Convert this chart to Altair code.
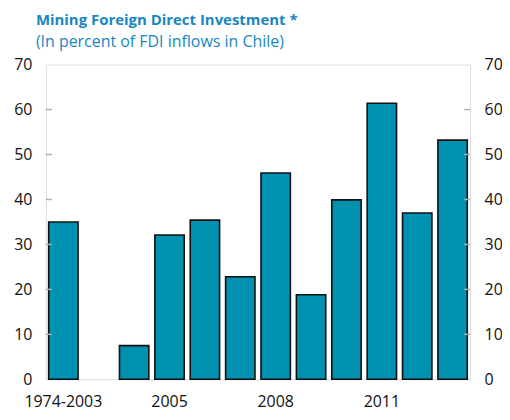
import altair as alt
import pandas as pd

categories = ["1974-2003", "gap", "2004", "2005", "2006", "2007", "2008", "2009", "2010", "2011", "2012", "2013"]
values = [35.0, None, 7.5, 32.1, 35.4, 22.8, 45.9, 18.8, 39.9, 61.4, 37.0, 53.2]
shown_labels = ["1974-2003", "2005", "2008", "2011"]
y_ticks = [0, 10, 20, 30, 40, 50, 60, 70]

df = pd.DataFrame({"cat": categories, "val": values})
ticks_df = pd.DataFrame({"v": y_ticks[1:-1]})

FONT = "Open Sans"
LS = 16
scale_y = alt.Scale(domain=[0, 70], nice=False)
label_expr = "indexof(" + str(shown_labels).replace("'", '"') + ", datum.value) >= 0 ? datum.value : ''"

bars = alt.Chart(df).mark_bar(color="#0090b0", stroke="#111111", strokeWidth=1.6).encode(
    x=alt.X("cat:N", sort=categories, title=None,
            scale=alt.Scale(paddingInner=0.17, paddingOuter=0.08),
            axis=alt.Axis(labelAngle=0, domain=False, ticks=False, labelPadding=14,
                          labelExpr=label_expr, labelFontSize=LS, labelFont=FONT,
                          labelColor="#111111")),
    y=alt.Y("val:Q", scale=scale_y, title=None,
            axis=alt.Axis(orient="left", values=y_ticks, domain=False, ticks=False,
                          grid=False, labelPadding=14, labelFontSize=LS, labelFont=FONT,
                          labelColor="#111111")),
)

left_ticks = alt.Chart(ticks_df).mark_rule(color="#b0b0b0", strokeWidth=1.5).encode(
    y=alt.Y("v:Q", scale=scale_y, title=None,
            axis=alt.Axis(orient="right", values=y_ticks, domain=False, ticks=False,
                          grid=False, labelPadding=14, labelFontSize=LS, labelFont=FONT,
                          labelColor="#111111")),
    x=alt.value(0), x2=alt.value(6),
)
right_ticks = alt.Chart(ticks_df).mark_rule(color="#b0b0b0", strokeWidth=1.5).encode(
    y=alt.Y("v:Q", scale=scale_y),
    x=alt.value(420), x2=alt.value(426),
)

chart = alt.layer(bars, left_ticks + right_ticks).resolve_axis(y="independent").properties(
    width=426, height=316,
    autosize=alt.AutoSizeParams(type="none"),
    padding={"left": 38, "top": 56, "right": 32, "bottom": 32},
    title=alt.TitleParams(
        text="Mining Foreign Direct Investment *",
        subtitle="(In percent of FDI inflows in Chile)",
        anchor="start", frame="group", dx=-10, offset=7,
        font=FONT, fontSize=15, fontWeight="bold", color="#1a86bf",
        subtitleFont=FONT, subtitleFontSize=16, subtitleColor="#1a86bf",
        subtitlePadding=6,
    ),
).configure_view(stroke="#b4b4b4", strokeWidth=2).configure(background="white")

chart.save("out.html", embed_options={"renderer": "svg", "actions": False})
